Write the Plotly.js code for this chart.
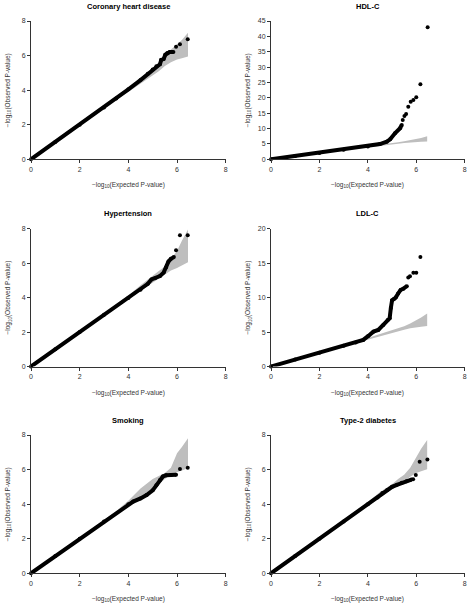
<!DOCTYPE html>
<html>
<head>
<meta charset="utf-8">
<script src="https://cdn.plot.ly/plotly-3.0.1.min.js"></script>
<style>html,body{margin:0;padding:0;background:#fff;}#chart{width:470px;height:607px;}</style>
</head>
<body>
<div id="chart"></div>
<script>
// ---------- Data ----------
var panelTitles = ["Coronary heart disease", "HDL-C", "Hypertension", "LDL-C", "Smoking", "Type-2 diabetes"];
var yMax = [8, 45, 8, 20, 8, 8];
var yStep = [2, 5, 2, 5, 2, 2];
var xTicks = [0, 2, 4, 6, 8];

// confidence band expected positions
var bandX = [0, 1, 2, 3, 3.5, 4, 4.5, 5, 5.25, 5.5, 5.75, 6, 6.2, 6.45];

// Coronary heart disease
var chdLineX = [0, 1, 2, 3, 3.5, 4, 4.5, 4.8, 5.0, 5.15, 5.3, 5.35, 5.45, 5.52, 5.6, 5.7, 5.85];
var chdLineY = [0, 1.0, 2.0, 3.0, 3.52, 4.05, 4.58, 4.95, 5.2, 5.38, 5.5, 5.75, 5.8, 6.05, 6.15, 6.2, 6.2];
var chdPtsX = [5.96, 6.12, 6.44];
var chdPtsY = [6.51, 6.65, 6.94];
var chdUpper = [0, 1.02, 2.03, 3.05, 3.58, 4.12, 4.7, 5.25, 5.55, 5.85, 6.35, 6.65, 6.9, 7.32];
var chdLower = [0, 0.98, 1.97, 2.95, 3.43, 3.9, 4.38, 4.85, 5.1, 5.4, 5.62, 5.78, 5.85, 5.94];

// HDL-C
var hdlLineX = [0, 1, 2, 3, 4, 4.5, 4.78, 4.92, 5.12, 5.33, 5.4];
var hdlLineY = [0, 1.05, 2.05, 3.1, 4.15, 4.95, 5.75, 6.5, 8.46, 10.1, 11.2];
var hdlPtsX = [5.44, 5.51, 5.58, 5.67, 5.77, 5.88, 6.0, 6.17, 6.47];
var hdlPtsY = [12.8, 14.1, 14.7, 17.1, 18.75, 19.3, 20.2, 24.4, 42.95];
var hdlUpper = [0, 1.02, 2.03, 3.05, 3.58, 4.12, 4.7, 5.25, 5.55, 5.85, 6.2, 6.6, 6.9, 7.5];
var hdlLower = [0, 0.98, 1.97, 2.95, 3.43, 3.9, 4.38, 4.85, 5.1, 5.3, 5.5, 5.65, 5.72, 5.8];

// Hypertension
var hypLineX = [0, 1, 2, 3, 4, 4.5, 4.8, 4.95, 5.1, 5.3, 5.45, 5.55, 5.65, 5.75, 5.87];
var hypLineY = [0, 1, 2, 3, 3.98, 4.45, 4.8, 5.05, 5.12, 5.25, 5.45, 5.75, 6.1, 6.25, 6.35];
var hypPtsX = [5.96, 6.12, 6.44];
var hypPtsY = [6.75, 7.62, 7.62];
var hypUpper = [0, 1.02, 2.03, 3.05, 3.58, 4.12, 4.72, 5.3, 5.55, 5.8, 6.25, 6.7, 7.3, 7.95];
var hypLower = [0, 0.98, 1.97, 2.95, 3.43, 3.9, 4.4, 4.88, 5.12, 5.35, 5.58, 5.72, 5.85, 6.05];

// LDL-C
var ldlLineX = [0, 1, 2, 3, 3.5, 3.81, 4.02, 4.23, 4.43, 4.64, 4.82, 4.9, 4.95, 5.0, 5.08, 5.15, 5.25, 5.35, 5.47, 5.61];
var ldlLineY = [0, 1, 2, 3, 3.5, 3.86, 4.44, 5.06, 5.3, 6.02, 6.75, 7.0, 8.5, 9.6, 9.8, 10.0, 10.6, 11.1, 11.3, 11.66];
var ldlPtsX = [5.67, 5.74, 5.88, 6.0, 6.17];
var ldlPtsY = [12.9, 13.1, 13.6, 13.6, 15.9];
var ldlUpper = [0, 1.02, 2.03, 3.05, 3.58, 4.12, 4.7, 5.25, 5.55, 5.85, 6.25, 6.7, 7.1, 7.7];
var ldlLower = [0, 0.98, 1.97, 2.95, 3.43, 3.9, 4.38, 4.85, 5.1, 5.35, 5.55, 5.7, 5.78, 5.88];

// Smoking
var smkLineX = [0, 1, 2, 3, 4, 4.2, 4.5, 4.75, 5.0, 5.15, 5.3, 5.42, 5.55, 5.75, 5.96];
var smkLineY = [0, 1, 2, 3, 4.0, 4.15, 4.33, 4.53, 4.8, 5.1, 5.4, 5.6, 5.67, 5.69, 5.7];
var smkPtsX = [6.12, 6.44];
var smkPtsY = [6.03, 6.11];
var smkUpper = [0, 1.02, 2.03, 3.05, 3.6, 4.2, 4.9, 5.45, 5.62, 5.8, 6.1, 6.95, 7.3, 7.81];
var smkLower = [0, 0.98, 1.97, 2.95, 3.43, 3.9, 4.35, 4.85, 5.15, 5.45, 5.68, 5.85, 5.95, 6.07];

// Type-2 diabetes
var t2dLineX = [0, 1, 2, 3, 4, 4.4, 4.6, 4.8, 5.0, 5.2, 5.4, 5.6, 5.8];
var t2dLineY = [0, 1, 2, 3, 4.0, 4.38, 4.65, 4.82, 5.0, 5.12, 5.24, 5.33, 5.42];
var t2dPtsX = [5.87, 5.98, 6.14, 6.46];
var t2dPtsY = [5.44, 5.69, 6.45, 6.59];
var t2dUpper = [0, 1.02, 2.03, 3.05, 3.58, 4.12, 4.7, 5.15, 5.45, 5.7, 6.1, 6.75, 7.2, 7.71];
var t2dLower = [0, 0.98, 1.97, 2.95, 3.43, 3.9, 4.38, 4.85, 5.1, 5.3, 5.58, 5.8, 5.9, 6.02];

// ---------- Build ----------
var panels = [
  {lx: chdLineX, ly: chdLineY, px: chdPtsX, py: chdPtsY, up: chdUpper, lo: chdLower},
  {lx: hdlLineX, ly: hdlLineY, px: hdlPtsX, py: hdlPtsY, up: hdlUpper, lo: hdlLower},
  {lx: hypLineX, ly: hypLineY, px: hypPtsX, py: hypPtsY, up: hypUpper, lo: hypLower},
  {lx: ldlLineX, ly: ldlLineY, px: ldlPtsX, py: ldlPtsY, up: ldlUpper, lo: ldlLower},
  {lx: smkLineX, ly: smkLineY, px: smkPtsX, py: smkPtsY, up: smkUpper, lo: smkLower},
  {lx: t2dLineX, ly: t2dLineY, px: t2dPtsX, py: t2dPtsY, up: t2dUpper, lo: t2dLower}
];

var W = 470, H = 607;
var colLeft = [[31, 225.7], [271, 464.7]];
var rowTopBottom = [[21, 159.3], [228.7, 366.5], [435, 573.3]];

var FONT = "Liberation Sans, Arial, sans-serif";
var data = [];
var layout = {
  width: W, height: H,
  margin: {l: 0, r: 0, t: 0, b: 0},
  paper_bgcolor: "#ffffff", plot_bgcolor: "#ffffff",
  showlegend: false,
  annotations: []
};

panels.forEach(function (p, i) {
  var n = i + 1;
  var xa = n === 1 ? "x" : "x" + n;
  var ya = n === 1 ? "y" : "y" + n;
  var col = i % 2, row = Math.floor(i / 2);
  var xd = [colLeft[col][0] / W, colLeft[col][1] / W];
  var yd = [1 - rowTopBottom[row][1] / H, 1 - rowTopBottom[row][0] / H];

  var polyX = bandX.concat(bandX.slice().reverse());
  var polyY = p.up.concat(p.lo.slice().reverse());
  data.push({type: "scatter", mode: "lines", x: polyX, y: polyY, fill: "toself",
    fillcolor: "#bebebe", line: {width: 0, color: "#bebebe"}, xaxis: xa, yaxis: ya, hoverinfo: "skip"});
  data.push({type: "scatter", mode: "lines+markers", x: p.lx, y: p.ly,
    line: {color: "#000", width: 4}, marker: {color: "#000", size: 4},
    xaxis: xa, yaxis: ya, cliponaxis: false, hoverinfo: "skip"});
  data.push({type: "scatter", mode: "markers", x: p.px, y: p.py,
    marker: {color: "#000", size: 4}, xaxis: xa, yaxis: ya, cliponaxis: false, hoverinfo: "skip"});

  var axCommon = {
    showline: true, linecolor: "#333", linewidth: 1, mirror: false,
    ticks: "outside", ticklen: 3, tickwidth: 1, tickcolor: "#333",
    tickfont: {family: FONT, size: 7, color: "#333"},
    showgrid: false, zeroline: false, fixedrange: true
  };
  var yTicks = [];
  for (var v = 0; v <= yMax[i]; v += yStep[i]) yTicks.push(v);
  layout["xaxis" + (n === 1 ? "" : n)] = Object.assign({}, axCommon, {
    domain: xd, range: [0, 8], tickmode: "array", tickvals: xTicks, ticktext: xTicks.map(String),
    anchor: ya
  });
  layout["yaxis" + (n === 1 ? "" : n)] = Object.assign({}, axCommon, {
    domain: yd, range: [0, yMax[i]], tickmode: "array", tickvals: yTicks, ticktext: yTicks.map(String),
    anchor: xa
  });

  var cx = (colLeft[col][0] + colLeft[col][1]) / 2;
  layout.annotations.push({xref: "paper", yref: "paper", x: cx / W, y: 1 - (rowTopBottom[row][0] - 15) / H,
    text: "<b>" + panelTitles[i] + "</b>", showarrow: false, xanchor: "center", yanchor: "middle",
    font: {family: FONT, size: 7.5, color: "#000"}});
  layout.annotations.push({xref: "paper", yref: "paper", x: cx / W, y: 1 - (rowTopBottom[row][1] + 26) / H,
    text: "\u2212log<sub>10</sub>(Expected P-value)", showarrow: false, xanchor: "center", yanchor: "middle",
    font: {family: FONT, size: 6.5, color: "#333"}});
  var cy = (rowTopBottom[row][0] + rowTopBottom[row][1]) / 2;
  layout.annotations.push({xref: "paper", yref: "paper", x: (colLeft[col][0] - 23) / W, y: 1 - cy / H,
    text: "\u2212log<sub>10</sub>(Observed P-value)", showarrow: false, textangle: -90,
    xanchor: "center", yanchor: "middle",
    font: {family: FONT, size: 6.5, color: "#333"}});
});

Plotly.newPlot("chart", data, layout, {staticPlot: true, displayModeBar: false});
</script>
</body>
</html>
